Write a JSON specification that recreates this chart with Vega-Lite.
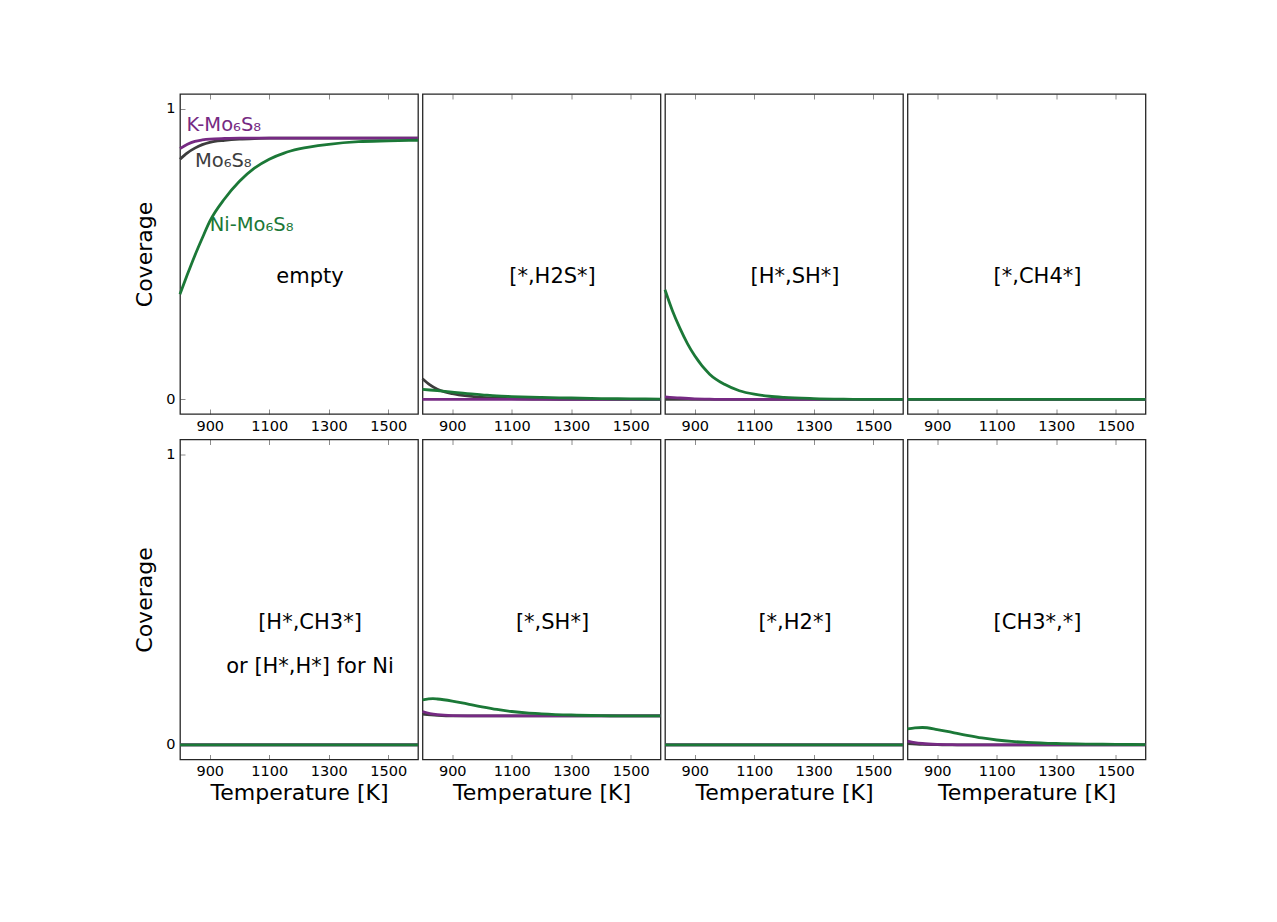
{
  "$schema": "https://vega.github.io/schema/vega-lite/v6.json",
  "autosize": {"type": "pad"},
  "padding": {"left": 133, "top": 93, "right": 5, "bottom": 5},
  "background": "white",
  "config": {
    "font": "DejaVu Sans",
    "view": {"stroke": "#262626", "strokeWidth": 1.3},
    "axis": {
      "grid": false, "domain": false, "tickSize": -5, "tickColor": "#8c8c8c", "tickWidth": 1,
      "labelFontSize": 14.5, "labelColor": "#000000", "labelPadding": 10,
      "titleFontSize": 22, "titleFontWeight": "normal", "titleColor": "#000000",
      "labelFont": "DejaVu Sans", "titleFont": "DejaVu Sans"
    },
    "axisY": {"titlePadding": 9}
  },
  "data": {"values": [
    {"r":1,"p":"empty","label":"empty"},
    {"r":1,"p":"[*,H2S*]","label":"[*,H2S*]"},
    {"r":1,"p":"[H*,SH*]","label":"[H*,SH*]"},
    {"r":1,"p":"[*,CH4*]","label":"[*,CH4*]"},
    {"r":2,"p":"[H*,CH3*]","label":"[H*,CH3*]\nor [H*,H*] for Ni"},
    {"r":2,"p":"[*,SH*]","label":"[*,SH*]"},
    {"r":2,"p":"[*,H2*]","label":"[*,H2*]"},
    {"r":2,"p":"[CH3*,*]","label":"[CH3*,*]"},
    {"r":1,"p":"empty","s":"K-Mo6S8","name":"K-Mo₆S₈"},
    {"r":1,"p":"empty","s":"Mo6S8","name":"Mo₆S₈"},
    {"r":1,"p":"empty","s":"Ni-Mo6S8","name":"Ni-Mo₆S₈"},

    {"r":1,"p":"empty","s":"Mo6S8","T":800,"c":0.826},
    {"r":1,"p":"empty","s":"Mo6S8","T":825,"c":0.848},
    {"r":1,"p":"empty","s":"Mo6S8","T":850,"c":0.864},
    {"r":1,"p":"empty","s":"Mo6S8","T":875,"c":0.876},
    {"r":1,"p":"empty","s":"Mo6S8","T":900,"c":0.884},
    {"r":1,"p":"empty","s":"Mo6S8","T":950,"c":0.891},
    {"r":1,"p":"empty","s":"Mo6S8","T":1000,"c":0.895},
    {"r":1,"p":"empty","s":"Mo6S8","T":1050,"c":0.897},
    {"r":1,"p":"empty","s":"Mo6S8","T":1100,"c":0.898},
    {"r":1,"p":"empty","s":"Mo6S8","T":1300,"c":0.898},
    {"r":1,"p":"empty","s":"Mo6S8","T":1600,"c":0.898},
    {"r":1,"p":"empty","s":"K-Mo6S8","T":800,"c":0.862},
    {"r":1,"p":"empty","s":"K-Mo6S8","T":825,"c":0.877},
    {"r":1,"p":"empty","s":"K-Mo6S8","T":850,"c":0.887},
    {"r":1,"p":"empty","s":"K-Mo6S8","T":875,"c":0.892},
    {"r":1,"p":"empty","s":"K-Mo6S8","T":900,"c":0.895},
    {"r":1,"p":"empty","s":"K-Mo6S8","T":950,"c":0.897},
    {"r":1,"p":"empty","s":"K-Mo6S8","T":1000,"c":0.898},
    {"r":1,"p":"empty","s":"K-Mo6S8","T":1300,"c":0.898},
    {"r":1,"p":"empty","s":"K-Mo6S8","T":1600,"c":0.898},
    {"r":1,"p":"empty","s":"Ni-Mo6S8","T":800,"c":0.362},
    {"r":1,"p":"empty","s":"Ni-Mo6S8","T":825,"c":0.43},
    {"r":1,"p":"empty","s":"Ni-Mo6S8","T":850,"c":0.495},
    {"r":1,"p":"empty","s":"Ni-Mo6S8","T":875,"c":0.555},
    {"r":1,"p":"empty","s":"Ni-Mo6S8","T":900,"c":0.612},
    {"r":1,"p":"empty","s":"Ni-Mo6S8","T":950,"c":0.69},
    {"r":1,"p":"empty","s":"Ni-Mo6S8","T":1000,"c":0.75},
    {"r":1,"p":"empty","s":"Ni-Mo6S8","T":1050,"c":0.795},
    {"r":1,"p":"empty","s":"Ni-Mo6S8","T":1100,"c":0.826},
    {"r":1,"p":"empty","s":"Ni-Mo6S8","T":1150,"c":0.847},
    {"r":1,"p":"empty","s":"Ni-Mo6S8","T":1200,"c":0.861},
    {"r":1,"p":"empty","s":"Ni-Mo6S8","T":1300,"c":0.877},
    {"r":1,"p":"empty","s":"Ni-Mo6S8","T":1400,"c":0.886},
    {"r":1,"p":"empty","s":"Ni-Mo6S8","T":1500,"c":0.889},
    {"r":1,"p":"empty","s":"Ni-Mo6S8","T":1600,"c":0.891},

    {"r":1,"p":"[*,H2S*]","s":"Mo6S8","T":800,"c":0.071},
    {"r":1,"p":"[*,H2S*]","s":"Mo6S8","T":825,"c":0.05},
    {"r":1,"p":"[*,H2S*]","s":"Mo6S8","T":850,"c":0.035},
    {"r":1,"p":"[*,H2S*]","s":"Mo6S8","T":875,"c":0.026},
    {"r":1,"p":"[*,H2S*]","s":"Mo6S8","T":900,"c":0.02},
    {"r":1,"p":"[*,H2S*]","s":"Mo6S8","T":950,"c":0.012},
    {"r":1,"p":"[*,H2S*]","s":"Mo6S8","T":1000,"c":0.007},
    {"r":1,"p":"[*,H2S*]","s":"Mo6S8","T":1100,"c":0.003},
    {"r":1,"p":"[*,H2S*]","s":"Mo6S8","T":1200,"c":0.001},
    {"r":1,"p":"[*,H2S*]","s":"Mo6S8","T":1300,"c":0},
    {"r":1,"p":"[*,H2S*]","s":"Mo6S8","T":1600,"c":0},
    {"r":1,"p":"[*,H2S*]","s":"K-Mo6S8","T":800,"c":0},
    {"r":1,"p":"[*,H2S*]","s":"K-Mo6S8","T":1600,"c":0},
    {"r":1,"p":"[*,H2S*]","s":"Ni-Mo6S8","T":800,"c":0.035},
    {"r":1,"p":"[*,H2S*]","s":"Ni-Mo6S8","T":850,"c":0.03},
    {"r":1,"p":"[*,H2S*]","s":"Ni-Mo6S8","T":900,"c":0.025},
    {"r":1,"p":"[*,H2S*]","s":"Ni-Mo6S8","T":950,"c":0.02},
    {"r":1,"p":"[*,H2S*]","s":"Ni-Mo6S8","T":1000,"c":0.016},
    {"r":1,"p":"[*,H2S*]","s":"Ni-Mo6S8","T":1050,"c":0.012},
    {"r":1,"p":"[*,H2S*]","s":"Ni-Mo6S8","T":1100,"c":0.01},
    {"r":1,"p":"[*,H2S*]","s":"Ni-Mo6S8","T":1200,"c":0.007},
    {"r":1,"p":"[*,H2S*]","s":"Ni-Mo6S8","T":1300,"c":0.005},
    {"r":1,"p":"[*,H2S*]","s":"Ni-Mo6S8","T":1400,"c":0.003},
    {"r":1,"p":"[*,H2S*]","s":"Ni-Mo6S8","T":1500,"c":0.002},
    {"r":1,"p":"[*,H2S*]","s":"Ni-Mo6S8","T":1600,"c":0.001},

    {"r":1,"p":"[H*,SH*]","s":"Mo6S8","T":800,"c":0},
    {"r":1,"p":"[H*,SH*]","s":"Mo6S8","T":1600,"c":0},
    {"r":1,"p":"[H*,SH*]","s":"K-Mo6S8","T":800,"c":0.009},
    {"r":1,"p":"[H*,SH*]","s":"K-Mo6S8","T":850,"c":0.005},
    {"r":1,"p":"[H*,SH*]","s":"K-Mo6S8","T":900,"c":0.002},
    {"r":1,"p":"[H*,SH*]","s":"K-Mo6S8","T":950,"c":0.001},
    {"r":1,"p":"[H*,SH*]","s":"K-Mo6S8","T":1000,"c":0},
    {"r":1,"p":"[H*,SH*]","s":"K-Mo6S8","T":1600,"c":0},
    {"r":1,"p":"[H*,SH*]","s":"Ni-Mo6S8","T":800,"c":0.377},
    {"r":1,"p":"[H*,SH*]","s":"Ni-Mo6S8","T":825,"c":0.305},
    {"r":1,"p":"[H*,SH*]","s":"Ni-Mo6S8","T":850,"c":0.245},
    {"r":1,"p":"[H*,SH*]","s":"Ni-Mo6S8","T":875,"c":0.193},
    {"r":1,"p":"[H*,SH*]","s":"Ni-Mo6S8","T":900,"c":0.15},
    {"r":1,"p":"[H*,SH*]","s":"Ni-Mo6S8","T":950,"c":0.087},
    {"r":1,"p":"[H*,SH*]","s":"Ni-Mo6S8","T":1000,"c":0.052},
    {"r":1,"p":"[H*,SH*]","s":"Ni-Mo6S8","T":1050,"c":0.03},
    {"r":1,"p":"[H*,SH*]","s":"Ni-Mo6S8","T":1100,"c":0.018},
    {"r":1,"p":"[H*,SH*]","s":"Ni-Mo6S8","T":1150,"c":0.011},
    {"r":1,"p":"[H*,SH*]","s":"Ni-Mo6S8","T":1200,"c":0.007},
    {"r":1,"p":"[H*,SH*]","s":"Ni-Mo6S8","T":1300,"c":0.003},
    {"r":1,"p":"[H*,SH*]","s":"Ni-Mo6S8","T":1400,"c":0.001},
    {"r":1,"p":"[H*,SH*]","s":"Ni-Mo6S8","T":1500,"c":0},
    {"r":1,"p":"[H*,SH*]","s":"Ni-Mo6S8","T":1600,"c":0},

    {"r":1,"p":"[*,CH4*]","s":"Mo6S8","T":800,"c":0},
    {"r":1,"p":"[*,CH4*]","s":"Mo6S8","T":1600,"c":0},
    {"r":1,"p":"[*,CH4*]","s":"K-Mo6S8","T":800,"c":0},
    {"r":1,"p":"[*,CH4*]","s":"K-Mo6S8","T":1600,"c":0},
    {"r":1,"p":"[*,CH4*]","s":"Ni-Mo6S8","T":800,"c":0},
    {"r":1,"p":"[*,CH4*]","s":"Ni-Mo6S8","T":1600,"c":0},

    {"r":2,"p":"[H*,CH3*]","s":"Mo6S8","T":800,"c":0},
    {"r":2,"p":"[H*,CH3*]","s":"Mo6S8","T":1600,"c":0},
    {"r":2,"p":"[H*,CH3*]","s":"K-Mo6S8","T":800,"c":0},
    {"r":2,"p":"[H*,CH3*]","s":"K-Mo6S8","T":1600,"c":0},
    {"r":2,"p":"[H*,CH3*]","s":"Ni-Mo6S8","T":800,"c":0},
    {"r":2,"p":"[H*,CH3*]","s":"Ni-Mo6S8","T":1600,"c":0},

    {"r":2,"p":"[*,SH*]","s":"Mo6S8","T":800,"c":0.106},
    {"r":2,"p":"[*,SH*]","s":"Mo6S8","T":850,"c":0.102},
    {"r":2,"p":"[*,SH*]","s":"Mo6S8","T":900,"c":0.1},
    {"r":2,"p":"[*,SH*]","s":"Mo6S8","T":1600,"c":0.1},
    {"r":2,"p":"[*,SH*]","s":"K-Mo6S8","T":800,"c":0.115},
    {"r":2,"p":"[*,SH*]","s":"K-Mo6S8","T":825,"c":0.108},
    {"r":2,"p":"[*,SH*]","s":"K-Mo6S8","T":850,"c":0.104},
    {"r":2,"p":"[*,SH*]","s":"K-Mo6S8","T":900,"c":0.101},
    {"r":2,"p":"[*,SH*]","s":"K-Mo6S8","T":1000,"c":0.1},
    {"r":2,"p":"[*,SH*]","s":"K-Mo6S8","T":1600,"c":0.1},
    {"r":2,"p":"[*,SH*]","s":"Ni-Mo6S8","T":800,"c":0.155},
    {"r":2,"p":"[*,SH*]","s":"Ni-Mo6S8","T":835,"c":0.159},
    {"r":2,"p":"[*,SH*]","s":"Ni-Mo6S8","T":850,"c":0.158},
    {"r":2,"p":"[*,SH*]","s":"Ni-Mo6S8","T":900,"c":0.151},
    {"r":2,"p":"[*,SH*]","s":"Ni-Mo6S8","T":950,"c":0.141},
    {"r":2,"p":"[*,SH*]","s":"Ni-Mo6S8","T":1000,"c":0.131},
    {"r":2,"p":"[*,SH*]","s":"Ni-Mo6S8","T":1050,"c":0.122},
    {"r":2,"p":"[*,SH*]","s":"Ni-Mo6S8","T":1100,"c":0.115},
    {"r":2,"p":"[*,SH*]","s":"Ni-Mo6S8","T":1150,"c":0.11},
    {"r":2,"p":"[*,SH*]","s":"Ni-Mo6S8","T":1200,"c":0.107},
    {"r":2,"p":"[*,SH*]","s":"Ni-Mo6S8","T":1300,"c":0.103},
    {"r":2,"p":"[*,SH*]","s":"Ni-Mo6S8","T":1400,"c":0.101},
    {"r":2,"p":"[*,SH*]","s":"Ni-Mo6S8","T":1500,"c":0.1},
    {"r":2,"p":"[*,SH*]","s":"Ni-Mo6S8","T":1600,"c":0.1},

    {"r":2,"p":"[*,H2*]","s":"Mo6S8","T":800,"c":0},
    {"r":2,"p":"[*,H2*]","s":"Mo6S8","T":1600,"c":0},
    {"r":2,"p":"[*,H2*]","s":"K-Mo6S8","T":800,"c":0},
    {"r":2,"p":"[*,H2*]","s":"K-Mo6S8","T":1600,"c":0},
    {"r":2,"p":"[*,H2*]","s":"Ni-Mo6S8","T":800,"c":0},
    {"r":2,"p":"[*,H2*]","s":"Ni-Mo6S8","T":1600,"c":0},

    {"r":2,"p":"[CH3*,*]","s":"Mo6S8","T":800,"c":0.005},
    {"r":2,"p":"[CH3*,*]","s":"Mo6S8","T":850,"c":0.002},
    {"r":2,"p":"[CH3*,*]","s":"Mo6S8","T":900,"c":0.001},
    {"r":2,"p":"[CH3*,*]","s":"Mo6S8","T":950,"c":0},
    {"r":2,"p":"[CH3*,*]","s":"Mo6S8","T":1600,"c":0},
    {"r":2,"p":"[CH3*,*]","s":"K-Mo6S8","T":800,"c":0.013},
    {"r":2,"p":"[CH3*,*]","s":"K-Mo6S8","T":825,"c":0.008},
    {"r":2,"p":"[CH3*,*]","s":"K-Mo6S8","T":850,"c":0.005},
    {"r":2,"p":"[CH3*,*]","s":"K-Mo6S8","T":900,"c":0.002},
    {"r":2,"p":"[CH3*,*]","s":"K-Mo6S8","T":950,"c":0.001},
    {"r":2,"p":"[CH3*,*]","s":"K-Mo6S8","T":1000,"c":0},
    {"r":2,"p":"[CH3*,*]","s":"K-Mo6S8","T":1600,"c":0},
    {"r":2,"p":"[CH3*,*]","s":"Ni-Mo6S8","T":800,"c":0.055},
    {"r":2,"p":"[CH3*,*]","s":"Ni-Mo6S8","T":825,"c":0.059},
    {"r":2,"p":"[CH3*,*]","s":"Ni-Mo6S8","T":850,"c":0.06},
    {"r":2,"p":"[CH3*,*]","s":"Ni-Mo6S8","T":900,"c":0.053},
    {"r":2,"p":"[CH3*,*]","s":"Ni-Mo6S8","T":950,"c":0.043},
    {"r":2,"p":"[CH3*,*]","s":"Ni-Mo6S8","T":1000,"c":0.033},
    {"r":2,"p":"[CH3*,*]","s":"Ni-Mo6S8","T":1050,"c":0.024},
    {"r":2,"p":"[CH3*,*]","s":"Ni-Mo6S8","T":1100,"c":0.017},
    {"r":2,"p":"[CH3*,*]","s":"Ni-Mo6S8","T":1150,"c":0.012},
    {"r":2,"p":"[CH3*,*]","s":"Ni-Mo6S8","T":1200,"c":0.009},
    {"r":2,"p":"[CH3*,*]","s":"Ni-Mo6S8","T":1300,"c":0.005},
    {"r":2,"p":"[CH3*,*]","s":"Ni-Mo6S8","T":1400,"c":0.003},
    {"r":2,"p":"[CH3*,*]","s":"Ni-Mo6S8","T":1500,"c":0.002},
    {"r":2,"p":"[CH3*,*]","s":"Ni-Mo6S8","T":1600,"c":0.001}
  ]},
  "spacing": 5.5,
  "vconcat": [
    {
      "transform": [{"filter": "datum.r == 1"}],
      "facet": {"column": {"field": "p", "type": "nominal", "sort": ["empty", "[*,H2S*]", "[H*,SH*]", "[*,CH4*]"], "header": null}},
      "spacing": 4.5,
      "bounds": "flush",
      "spec": {
        "width": 238, "height": 320,
        "layer": [
          {
            "transform": [{"filter": "isValid(datum.T)"}],
            "mark": {"type": "line", "strokeWidth": 2.8, "interpolate": "monotone"},
            "encoding": {
              "x": {"field": "T", "type": "quantitative", "scale": {"domain": [800, 1600], "nice": false, "zero": false}, "axis": {"orient": "bottom", "values": [900, 1100, 1300, 1500], "format": "d", "title": null}},
              "y": {"field": "c", "type": "quantitative", "scale": {"domain": [-0.05, 1.05], "nice": false}, "axis": {"values": [0, 1], "format": "d", "title": "Coverage"}},
              "color": {"field": "s", "type": "nominal", "scale": {"domain": ["Mo6S8", "K-Mo6S8", "Ni-Mo6S8"], "range": ["#3d3d3d", "#762a83", "#1b7837"]}, "legend": null}
            }
          },
          {
            "transform": [{"filter": "isValid(datum.label)"}],
            "mark": {"type": "text", "fontSize": 21, "align": "center", "baseline": "alphabetic", "lineBreak": "\n", "lineHeight": 44, "color": "#000000"},
            "encoding": {
              "x": {"datum": 1237, "axis": {"orient": "top", "values": [900, 1100, 1300, 1500], "labels": false, "title": null}},
              "y": {"datum": 0.4},
              "text": {"field": "label"}
            }
          },
          {
            "transform": [{"filter": "isValid(datum.name) && datum.s == 'K-Mo6S8'"}],
            "mark": {"type": "text", "fontSize": 19.5, "align": "left", "baseline": "middle"},
            "encoding": {"x": {"datum": 822, "axis": null}, "y": {"datum": 0.942}, "text": {"field": "name"}, "color": {"field": "s", "type": "nominal", "legend": null}}
          },
          {
            "transform": [{"filter": "isValid(datum.name) && datum.s == 'Mo6S8'"}],
            "mark": {"type": "text", "fontSize": 19.5, "align": "left", "baseline": "middle"},
            "encoding": {"x": {"datum": 850, "axis": null}, "y": {"datum": 0.821}, "text": {"field": "name"}, "color": {"field": "s", "type": "nominal", "legend": null}}
          },
          {
            "transform": [{"filter": "isValid(datum.name) && datum.s == 'Ni-Mo6S8'"}],
            "mark": {"type": "text", "fontSize": 19.5, "align": "left", "baseline": "middle"},
            "encoding": {"x": {"datum": 900, "axis": null}, "y": {"datum": 0.598}, "text": {"field": "name"}, "color": {"field": "s", "type": "nominal", "legend": null}}
          }
        ]
      }
    },
    {
      "transform": [{"filter": "datum.r == 2"}],
      "facet": {"column": {"field": "p", "type": "nominal", "sort": ["[H*,CH3*]", "[*,SH*]", "[*,H2*]", "[CH3*,*]"], "header": null}},
      "spacing": 4.5,
      "bounds": "flush",
      "spec": {
        "width": 238, "height": 320,
        "layer": [
          {
            "transform": [{"filter": "isValid(datum.T)"}],
            "mark": {"type": "line", "strokeWidth": 2.8, "interpolate": "monotone"},
            "encoding": {
              "x": {"field": "T", "type": "quantitative", "scale": {"domain": [800, 1600], "nice": false, "zero": false}, "axis": {"orient": "bottom", "values": [900, 1100, 1300, 1500], "format": "d", "title": "Temperature [K]"}},
              "y": {"field": "c", "type": "quantitative", "scale": {"domain": [-0.05, 1.05], "nice": false}, "axis": {"values": [0, 1], "format": "d", "title": "Coverage"}},
              "color": {"field": "s", "type": "nominal", "scale": {"domain": ["Mo6S8", "K-Mo6S8", "Ni-Mo6S8"], "range": ["#3d3d3d", "#762a83", "#1b7837"]}, "legend": null}
            }
          },
          {
            "transform": [{"filter": "isValid(datum.label)"}],
            "mark": {"type": "text", "fontSize": 21, "align": "center", "baseline": "alphabetic", "lineBreak": "\n", "lineHeight": 44, "color": "#000000"},
            "encoding": {
              "x": {"datum": 1237, "axis": {"orient": "top", "values": [900, 1100, 1300, 1500], "labels": false, "title": null}},
              "y": {"datum": 0.4},
              "text": {"field": "label"}
            }
          }
        ]
      }
    }
  ]
}
